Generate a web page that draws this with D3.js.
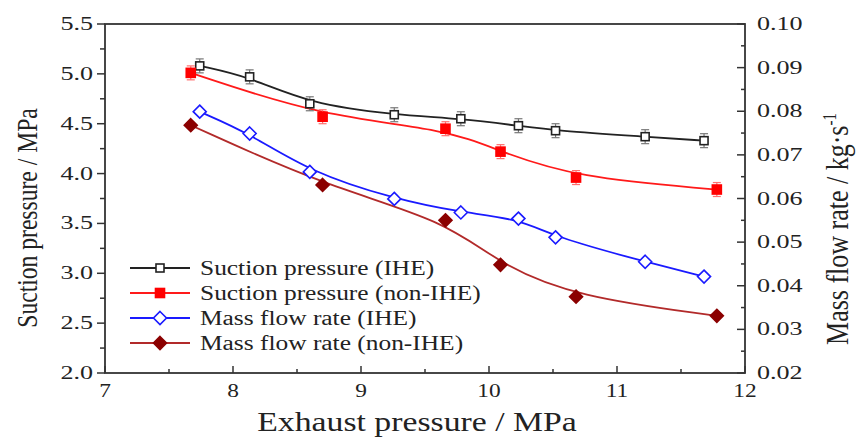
<!DOCTYPE html>
<html>
<head>
<meta charset="utf-8">
<script src="https://cdn.jsdelivr.net/npm/d3@7"></script>
<style>
html,body{margin:0;padding:0;background:#fff;}
svg{display:block;}
text{font-family:"Liberation Serif","Times New Roman",serif;fill:#222;}
</style>
</head>
<body>
<svg id="chart" width="856" height="437"></svg>
<script>
// ---- data ----
const exhaustIHE    = [7.74, 8.13, 8.60, 9.26, 9.78, 10.23, 10.52, 11.22, 11.68];
const suctionIHE    = [5.08, 4.97, 4.70, 4.59, 4.55, 4.48, 4.43, 4.37, 4.33];
const massIHE       = [0.0799, 0.0749, 0.0661, 0.0599, 0.0568, 0.0554, 0.0511, 0.0455, 0.0421];
const exhaustNonIHE = [7.67, 8.70, 9.66, 10.09, 10.68, 11.78];
const suctionNonIHE = [5.01, 4.57, 4.45, 4.22, 3.96, 3.84];
const massNonIHE    = [0.0768, 0.0631, 0.0550, 0.0448, 0.0375, 0.0331];
const suctionError  = 0.07;
const seriesNames   = ["Suction pressure (IHE)", "Suction pressure (non-IHE)", "Mass flow rate (IHE)", "Mass flow rate (non-IHE)"];
const xTicks        = [7, 8, 9, 10, 11, 12];
const yLeftTicks    = [2.0, 2.5, 3.0, 3.5, 4.0, 4.5, 5.0, 5.5];
const yRightTicks   = [0.02, 0.03, 0.04, 0.05, 0.06, 0.07, 0.08, 0.09, 0.10];

// ---- layout ----
const L = 105, R = 745, T = 24, B = 373;
const svg = d3.select("#chart");
const x  = d3.scaleLinear().domain([7, 12]).range([L, R]);
const yL = d3.scaleLinear().domain([2.0, 5.5]).range([B, T]);
const yR = d3.scaleLinear().domain([0.02, 0.10]).range([B, T]);

const axisColor = "#333";
const tickSX = 1.45, xTickSX = 1.3;

const range = (a, b, s) => d3.range(Math.round((b - a) / s) + 1).map(i => +(a + i * s).toFixed(4));

const gAx = svg.append("g");
// Left axis ticks (outward)
range(2.0, 5.5, 0.25).forEach((v, i) => {
  const major = i % 2 === 0;
  gAx.append("line").attr("x1", L - (major ? 8 : 5)).attr("x2", L)
    .attr("y1", yL(v)).attr("y2", yL(v)).attr("stroke", axisColor).attr("stroke-width", 1.5);
});
yLeftTicks.forEach(v => {
  gAx.append("text").attr("transform", `translate(${L - 12},${yL(v) + 6}) scale(${tickSX},1)`)
    .attr("text-anchor", "end").attr("font-size", 18).text(d3.format(".1f")(v));
});
// Right axis ticks (inward)
range(0.02, 0.10, 0.005).forEach((v, i) => {
  const major = i % 2 === 0;
  gAx.append("line").attr("x1", R - (major ? 8 : 4)).attr("x2", R)
    .attr("y1", yR(v)).attr("y2", yR(v)).attr("stroke", axisColor).attr("stroke-width", 1.5);
});
yRightTicks.forEach(v => {
  gAx.append("text").attr("transform", `translate(${R + 12},${yR(v) + 6}) scale(${tickSX},1)`)
    .attr("text-anchor", "start").attr("font-size", 18).text(d3.format(".2f")(v));
});
// X axis ticks (inward)
range(7, 12, 0.5).forEach((v, i) => {
  const major = i % 2 === 0;
  gAx.append("line").attr("x1", x(v)).attr("x2", x(v))
    .attr("y1", B - (major ? 7 : 4)).attr("y2", B).attr("stroke", axisColor).attr("stroke-width", 1.5);
});
xTicks.forEach(v => {
  gAx.append("text").attr("transform", `translate(${x(v)},${B + 24}) scale(${xTickSX},1)`)
    .attr("text-anchor", "middle").attr("font-size", 18).text(v);
});
// frame
svg.append("rect").attr("x", L).attr("y", T).attr("width", R - L).attr("height", B - T)
  .attr("fill", "none").attr("stroke", axisColor).attr("stroke-width", 1.8);

// ---- series ----
const series = [
  {xs: exhaustIHE,    ys: suctionIHE,    y: yL, line: "#222",    mark: "#222",    fill: "#fff",    shape: "square", size: 8, err: "#777"},
  {xs: exhaustNonIHE, ys: suctionNonIHE, y: yL, line: "#ff1a1a", mark: "#f00",    fill: "#f00",    shape: "square", size: 9, err: "#ff7070"},
  {xs: exhaustIHE,    ys: massIHE,       y: yR, line: "#1a1aff", mark: "#1a1aff", fill: "#fff",    shape: "diamond"},
  {xs: exhaustNonIHE, ys: massNonIHE,    y: yR, line: "#b22a2a", mark: "#8b0000", fill: "#8b0000", shape: "diamond"}
];

function drawMarker(g, cx, cy, s) {
  if (s.shape === "square") {
    const h = s.size / 2;
    g.append("rect").attr("x", cx - h).attr("y", cy - h).attr("width", s.size).attr("height", s.size)
      .attr("fill", s.fill).attr("stroke", s.mark).attr("stroke-width", 1.6);
  } else {
    const r = 6.5;
    g.append("path").attr("d", `M${cx},${cy - r}L${cx + r},${cy}L${cx},${cy + r}L${cx - r},${cy}Z`)
      .attr("fill", s.fill).attr("stroke", s.mark).attr("stroke-width", 1.6);
  }
}

const plot = svg.append("g");
series.forEach(s => {
  const pts = s.xs.map((xv, i) => [x(xv), s.y(s.ys[i])]);
  plot.append("path").attr("d", d3.line().curve(d3.curveBasis)(pts))
    .attr("fill", "none").attr("stroke", s.line).attr("stroke-width", 1.8);
});
series.forEach(s => {
  s.xs.forEach((xv, i) => {
    const cx = x(xv), cy = s.y(s.ys[i]);
    if (s.err) {
      const y1 = yL(s.ys[i] + suctionError), y2 = yL(s.ys[i] - suctionError);
      plot.append("line").attr("x1", cx).attr("x2", cx).attr("y1", y1).attr("y2", y2).attr("stroke", s.err).attr("stroke-width", 1.2);
      [y1, y2].forEach(yy => plot.append("line").attr("x1", cx - 4).attr("x2", cx + 4).attr("y1", yy).attr("y2", yy).attr("stroke", s.err).attr("stroke-width", 1.2));
    }
    drawMarker(plot, cx, cy, s);
  });
});

// ---- legend ----
const leg = svg.append("g");
const legY0 = 268, legDY = 25;
series.forEach((s, i) => {
  const yy = legY0 + i * legDY;
  leg.append("line").attr("x1", 130).attr("x2", 190).attr("y1", yy).attr("y2", yy)
    .attr("stroke", s.line).attr("stroke-width", 1.8);
  drawMarker(leg, 160, yy, s);
  leg.append("text").attr("transform", `translate(200,${yy + 7}) scale(1.27,1)`)
    .attr("font-size", 20).text(seriesNames[i]);
});

// ---- axis titles ----
svg.append("text").attr("transform", `translate(417,431) scale(1.25,1)`)
  .attr("text-anchor", "middle").attr("font-size", 27).text("Exhaust pressure / MPa");
svg.append("text").attr("transform", `translate(37,218) rotate(-90) scale(1,1.28)`)
  .attr("text-anchor", "middle").attr("font-size", 23.6).text("Suction pressure / MPa");
const rt = svg.append("text").attr("transform", `translate(848,229) rotate(-90) scale(1,1.23)`)
  .attr("text-anchor", "middle").attr("font-size", 26);
rt.append("tspan").text("Mass flow rate / kg·s");
rt.append("tspan").attr("dy", -10).attr("font-size", 15).text("-1");
</script>
</body>
</html>
